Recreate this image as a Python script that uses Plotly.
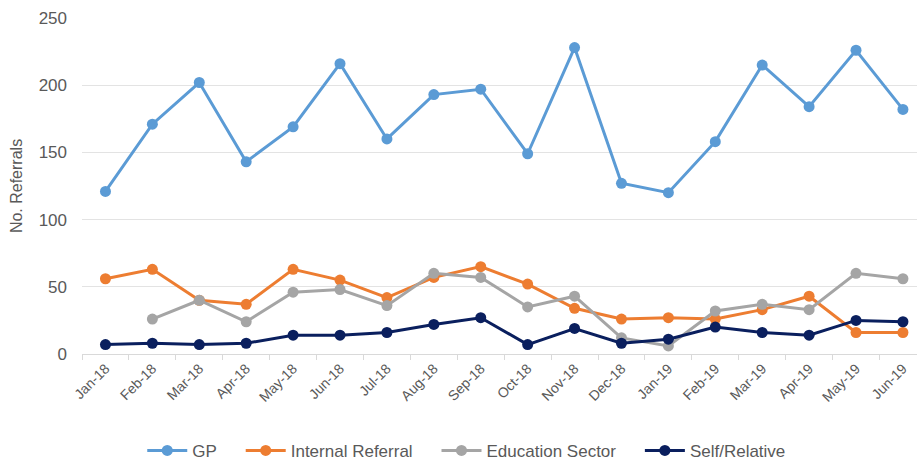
import plotly.graph_objects as go

months = ["Jan-18", "Feb-18", "Mar-18", "Apr-18", "May-18", "Jun-18", "Jul-18", "Aug-18", "Sep-18",
          "Oct-18", "Nov-18", "Dec-18", "Jan-19", "Feb-19", "Mar-19", "Apr-19", "May-19", "Jun-19"]
gp = [121, 171, 202, 143, 169, 216, 160, 193, 197, 149, 228, 127, 120, 158, 215, 184, 226, 182]
internal = [56, 63, 40, 37, 63, 55, 42, 57, 65, 52, 34, 26, 27, 26, 33, 43, 16, 16]
education = [None, 26, 40, 24, 46, 48, 36, 60, 57, 35, 43, 12, 6, 32, 37, 33, 60, 56]
self_rel = [7, 8, 7, 8, 14, 14, 16, 22, 27, 7, 19, 8, 11, 20, 16, 14, 25, 24]

series = [
    ("GP", gp, "#5B9BD5"),
    ("Internal Referral", internal, "#ED7D31"),
    ("Education Sector", education, "#A5A5A5"),
    ("Self/Relative", self_rel, "#0A1F5E"),
]

pad = "\u00a0" * 4
fig = go.Figure()
for i, (name, vals, col) in enumerate(series):
    fig.add_trace(go.Scatter(
        x=months, y=vals, name=name + (pad if i < len(series) - 1 else ""),
        mode="lines+markers",
        line=dict(color=col, width=3),
        marker=dict(color=col, size=11),
        connectgaps=False,
    ))

font_fam = "Liberation Sans, Arial, sans-serif"
fig.update_layout(
    width=917, height=462,
    margin=dict(l=82, r=0, t=18, b=108),
    paper_bgcolor="white", plot_bgcolor="white",
    font=dict(family=font_fam, color="#595959", size=15),
    showlegend=True,
    legend=dict(orientation="h", xref="container", yref="container",
                x=0.509, xanchor="center", y=0.024, yanchor="middle",
                font=dict(size=17, color="#595959"), traceorder="normal",
                itemwidth=40),
    xaxis=dict(
        type="category", range=[-0.5, 17.3], automargin=False,
        tickangle=-45, tickfont=dict(size=14, color="#595959"),
        showgrid=False, showline=True, linecolor="#D9D9D9", linewidth=1,
        ticks="outside", tickson="boundaries", ticklen=5, tickcolor="#D9D9D9",
        zeroline=False,
    ),
    yaxis=dict(
        range=[0, 250], tickvals=[0, 50, 100, 150, 200, 250], automargin=False,
        tickfont=dict(size=17, color="#595959"),
        showgrid=True, gridcolor="#E3E3E3", gridwidth=1,
        zeroline=False, showline=False,
        title=dict(text="No. Referrals", font=dict(size=16, color="#595959"), standoff=12),
        ticklabelstandoff=14,
    ),
)

fig.write_html("out.html", config={"displayModeBar": False},
               post_script="document.body.style.margin='0';")
